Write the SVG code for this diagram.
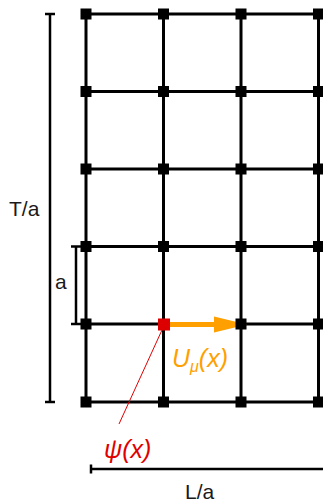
<svg xmlns="http://www.w3.org/2000/svg" width="323" height="503" viewBox="0 0 323 503">
<style>
.g{stroke:#000;stroke-width:3;fill:none}
.n{fill:#000}
.d{stroke:#000;stroke-width:2.5;fill:none}
.t{font-family:"Liberation Sans",Arial,sans-serif;font-size:21px;fill:#1a1a1a}
.m{font-family:"Liberation Sans",Arial,sans-serif;font-style:italic}
</style>
<defs>
<rect id="sq" x="-5.5" y="-5.5" width="11" height="11"/>
</defs>
<g id="connectors">
<g class="g">
<line x1="86" y1="14" x2="323" y2="14"/>
<line x1="86" y1="91.5" x2="323" y2="91.5"/>
<line x1="86" y1="169" x2="323" y2="169"/>
<line x1="86" y1="246.5" x2="323" y2="246.5"/>
<line x1="86" y1="324" x2="323" y2="324"/>
<line x1="86" y1="402" x2="323" y2="402"/>
<line x1="86" y1="14" x2="86" y2="402"/>
<line x1="163.5" y1="14" x2="163.5" y2="402"/>
<line x1="241" y1="14" x2="241" y2="402"/>
<line x1="318.5" y1="14" x2="318.5" y2="402"/>
</g>
<g id="dim-T" class="d">
<line x1="50" y1="14" x2="50" y2="402"/>
<line x1="45" y1="14" x2="55" y2="14"/>
<line x1="45" y1="402" x2="55" y2="402"/>
</g>
<g id="dim-a" class="d">
<line x1="76" y1="246.5" x2="76" y2="324"/>
<line x1="71" y1="246.5" x2="86" y2="246.5"/>
<line x1="71" y1="324" x2="86" y2="324"/>
</g>
<g id="dim-L" class="d">
<line x1="91" y1="469" x2="323" y2="469"/>
<line x1="91" y1="464.5" x2="91" y2="473.5"/>
</g>
<line id="psi-leader" x1="162" y1="330" x2="119" y2="424" stroke="#e00000" stroke-width="1"/>
<g id="link">
<line x1="169" y1="324.5" x2="216" y2="324.5" stroke="#ff9f00" stroke-width="5"/>
<polygon points="214,316.5 247,324.5 214,332.5" fill="#ff9f00"/>
</g>
</g>
<g id="nodes" class="n">
<g id="n00"><use href="#sq" x="86" y="14"/></g>
<g id="n10"><use href="#sq" x="163.5" y="14"/></g>
<g id="n20"><use href="#sq" x="241" y="14"/></g>
<g id="n30"><use href="#sq" x="318.5" y="14"/></g>
<g id="n01"><use href="#sq" x="86" y="91.5"/></g>
<g id="n11"><use href="#sq" x="163.5" y="91.5"/></g>
<g id="n21"><use href="#sq" x="241" y="91.5"/></g>
<g id="n31"><use href="#sq" x="318.5" y="91.5"/></g>
<g id="n02"><use href="#sq" x="86" y="169"/></g>
<g id="n12"><use href="#sq" x="163.5" y="169"/></g>
<g id="n22"><use href="#sq" x="241" y="169"/></g>
<g id="n32"><use href="#sq" x="318.5" y="169"/></g>
<g id="n03"><use href="#sq" x="86" y="246.5"/></g>
<g id="n13"><use href="#sq" x="163.5" y="246.5"/></g>
<g id="n23"><use href="#sq" x="241" y="246.5"/></g>
<g id="n33"><use href="#sq" x="318.5" y="246.5"/></g>
<g id="n04"><use href="#sq" x="86" y="324"/></g>
<g id="n24"><use href="#sq" x="241" y="324"/></g>
<g id="n34"><use href="#sq" x="318.5" y="324"/></g>
<g id="n05"><use href="#sq" x="86" y="402"/></g>
<g id="n15"><use href="#sq" x="163.5" y="402"/></g>
<g id="n25"><use href="#sq" x="241" y="402"/></g>
<g id="n35"><use href="#sq" x="318.5" y="402"/></g>
<g id="site-x"><rect x="158" y="318.5" width="12" height="12" fill="#dd0000"/></g>
</g>
<g id="labels">
<text class="t" x="9" y="216">T/a</text>
<text class="t" x="55" y="289">a</text>
<text class="t" x="185" y="499">L/a</text>
<text class="m" x="172" y="367" font-size="25" fill="#ff9f00">U<tspan font-size="16" dy="5">μ</tspan><tspan dy="-5">(x)</tspan></text>
<text class="m" x="104" y="458" font-size="25" fill="#e00000">ψ(x)</text>
</g>
</svg>
